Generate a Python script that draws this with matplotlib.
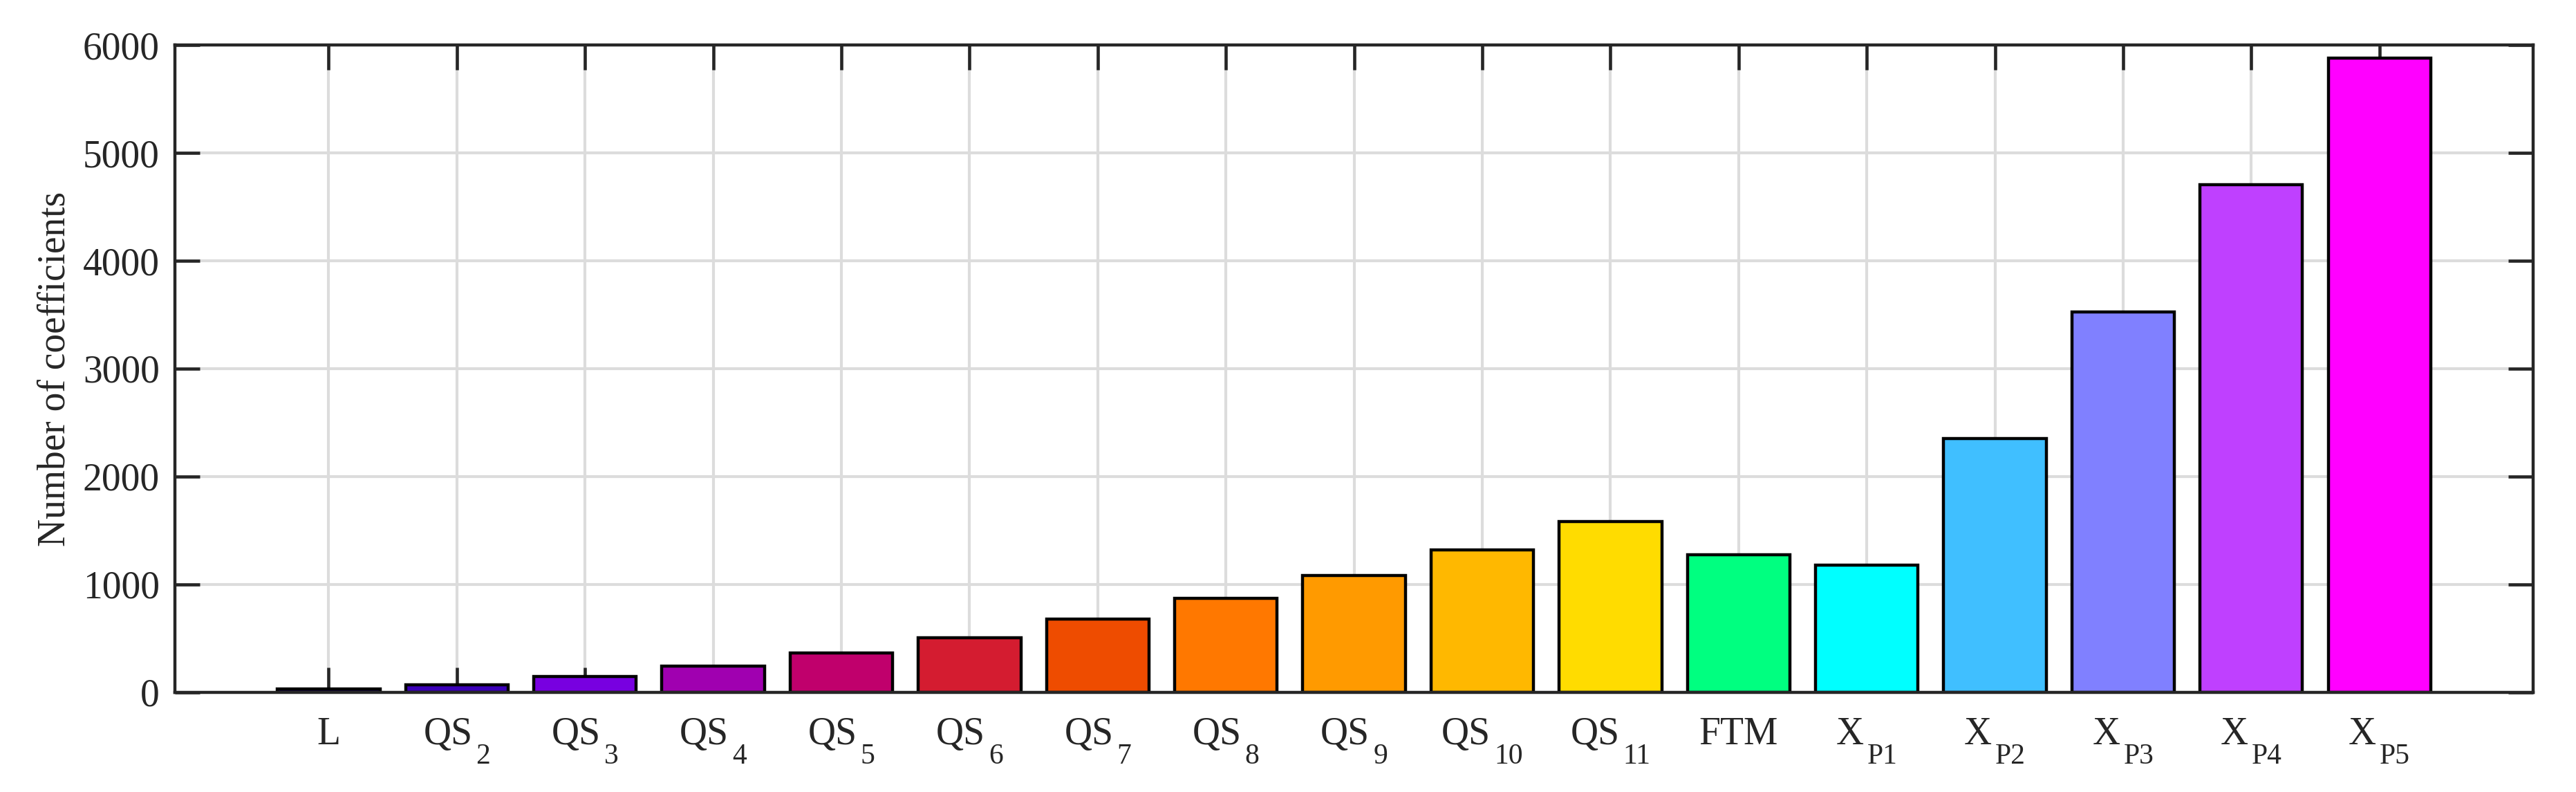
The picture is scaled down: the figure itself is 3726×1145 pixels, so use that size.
import matplotlib
matplotlib.use('Agg')
import matplotlib.pyplot as plt
from matplotlib.transforms import offset_copy

plt.rcParams['font.family'] = ['Liberation Serif', 'DejaVu Serif']

# model names, split in main part and subscript
label_main = ['L', 'QS', 'QS', 'QS', 'QS', 'QS', 'QS', 'QS', 'QS', 'QS', 'QS',
              'FTM', 'X', 'X', 'X', 'X', 'X']
label_sub = ['', '2', '3', '4', '5', '6', '7', '8', '9', '10', '11',
             '', 'P1', 'P2', 'P3', 'P4', 'P5']
n_coeffs = [28, 66, 146, 242, 364, 505, 677, 870, 1083, 1320, 1581,
            1273, 1176, 2352, 3528, 4704, 5880]
bar_colors = ['#1a0066', '#3c00b8', '#7800e0', '#a000b0', '#c0006c', '#d41c30',
              '#ee4c00', '#ff7800', '#ff9a00', '#ffb800', '#ffdc00', '#00ff80',
              '#00ffff', '#40bfff', '#8080ff', '#bf40ff', '#ff00ff']
yticks = [0, 1000, 2000, 3000, 4000, 5000, 6000]

txt_col = '#262626'

fig = plt.figure(figsize=(37.26, 11.45), dpi=100)
ax = fig.add_axes([0.0679, 0.126, 0.9155, 0.817])

x = list(range(1, len(n_coeffs) + 1))
ax.bar(x, n_coeffs, width=0.8, color=bar_colors, edgecolor='black',
       linewidth=3.2, zorder=2)

# grid behind the bars, ticks stay on top
for yv in yticks:
    ax.axhline(yv, color='#dcdcdc', lw=3.0, zorder=0.5)
for xv in x:
    ax.axvline(xv, color='#dcdcdc', lw=3.0, zorder=0.5)

ax.set_xlim(-0.2, len(n_coeffs) + 1.2)
ax.set_ylim(0, 6000)
ax.set_xticks(x)
ax.set_yticks(yticks)

ax.tick_params(axis='both', direction='in', length=26, width=3.3,
               color=txt_col, labelsize=40, labelcolor=txt_col,
               top=True, right=True)
ax.tick_params(axis='x', labelbottom=False)
ax.tick_params(axis='y', pad=16)
for sp in ax.spines.values():
    sp.set_linewidth(3.2)
    sp.set_color(txt_col)
    sp.set_zorder(5)

ax.set_ylabel('Number of coefficients', fontsize=40, color=txt_col, labelpad=10)

# x labels with low-sitting subscripts, centred on the tick as a whole
fig.canvas.draw()
rend = fig.canvas.get_renderer()
base = ax.get_xaxis_transform()
for xi, m, s in zip(x, label_main, label_sub):
    t1 = ax.text(xi, 0, m, transform=base, fontsize=40, color=txt_col,
                 ha='left', va='baseline')
    t2 = ax.text(xi, 0, s, transform=base, fontsize=30, color=txt_col,
                 ha='left', va='baseline')
    w1 = t1.get_window_extent(rend).width
    w2 = t2.get_window_extent(rend).width if s else 0
    gap = 5 if s else 0
    left = -(w1 + gap + w2) / 2
    t1.set_transform(offset_copy(base, fig, x=left, y=-75, units='dots'))
    t2.set_transform(offset_copy(base, fig, x=left + w1 + gap, y=-103, units='dots'))

fig.savefig('out.png', dpi=100)
